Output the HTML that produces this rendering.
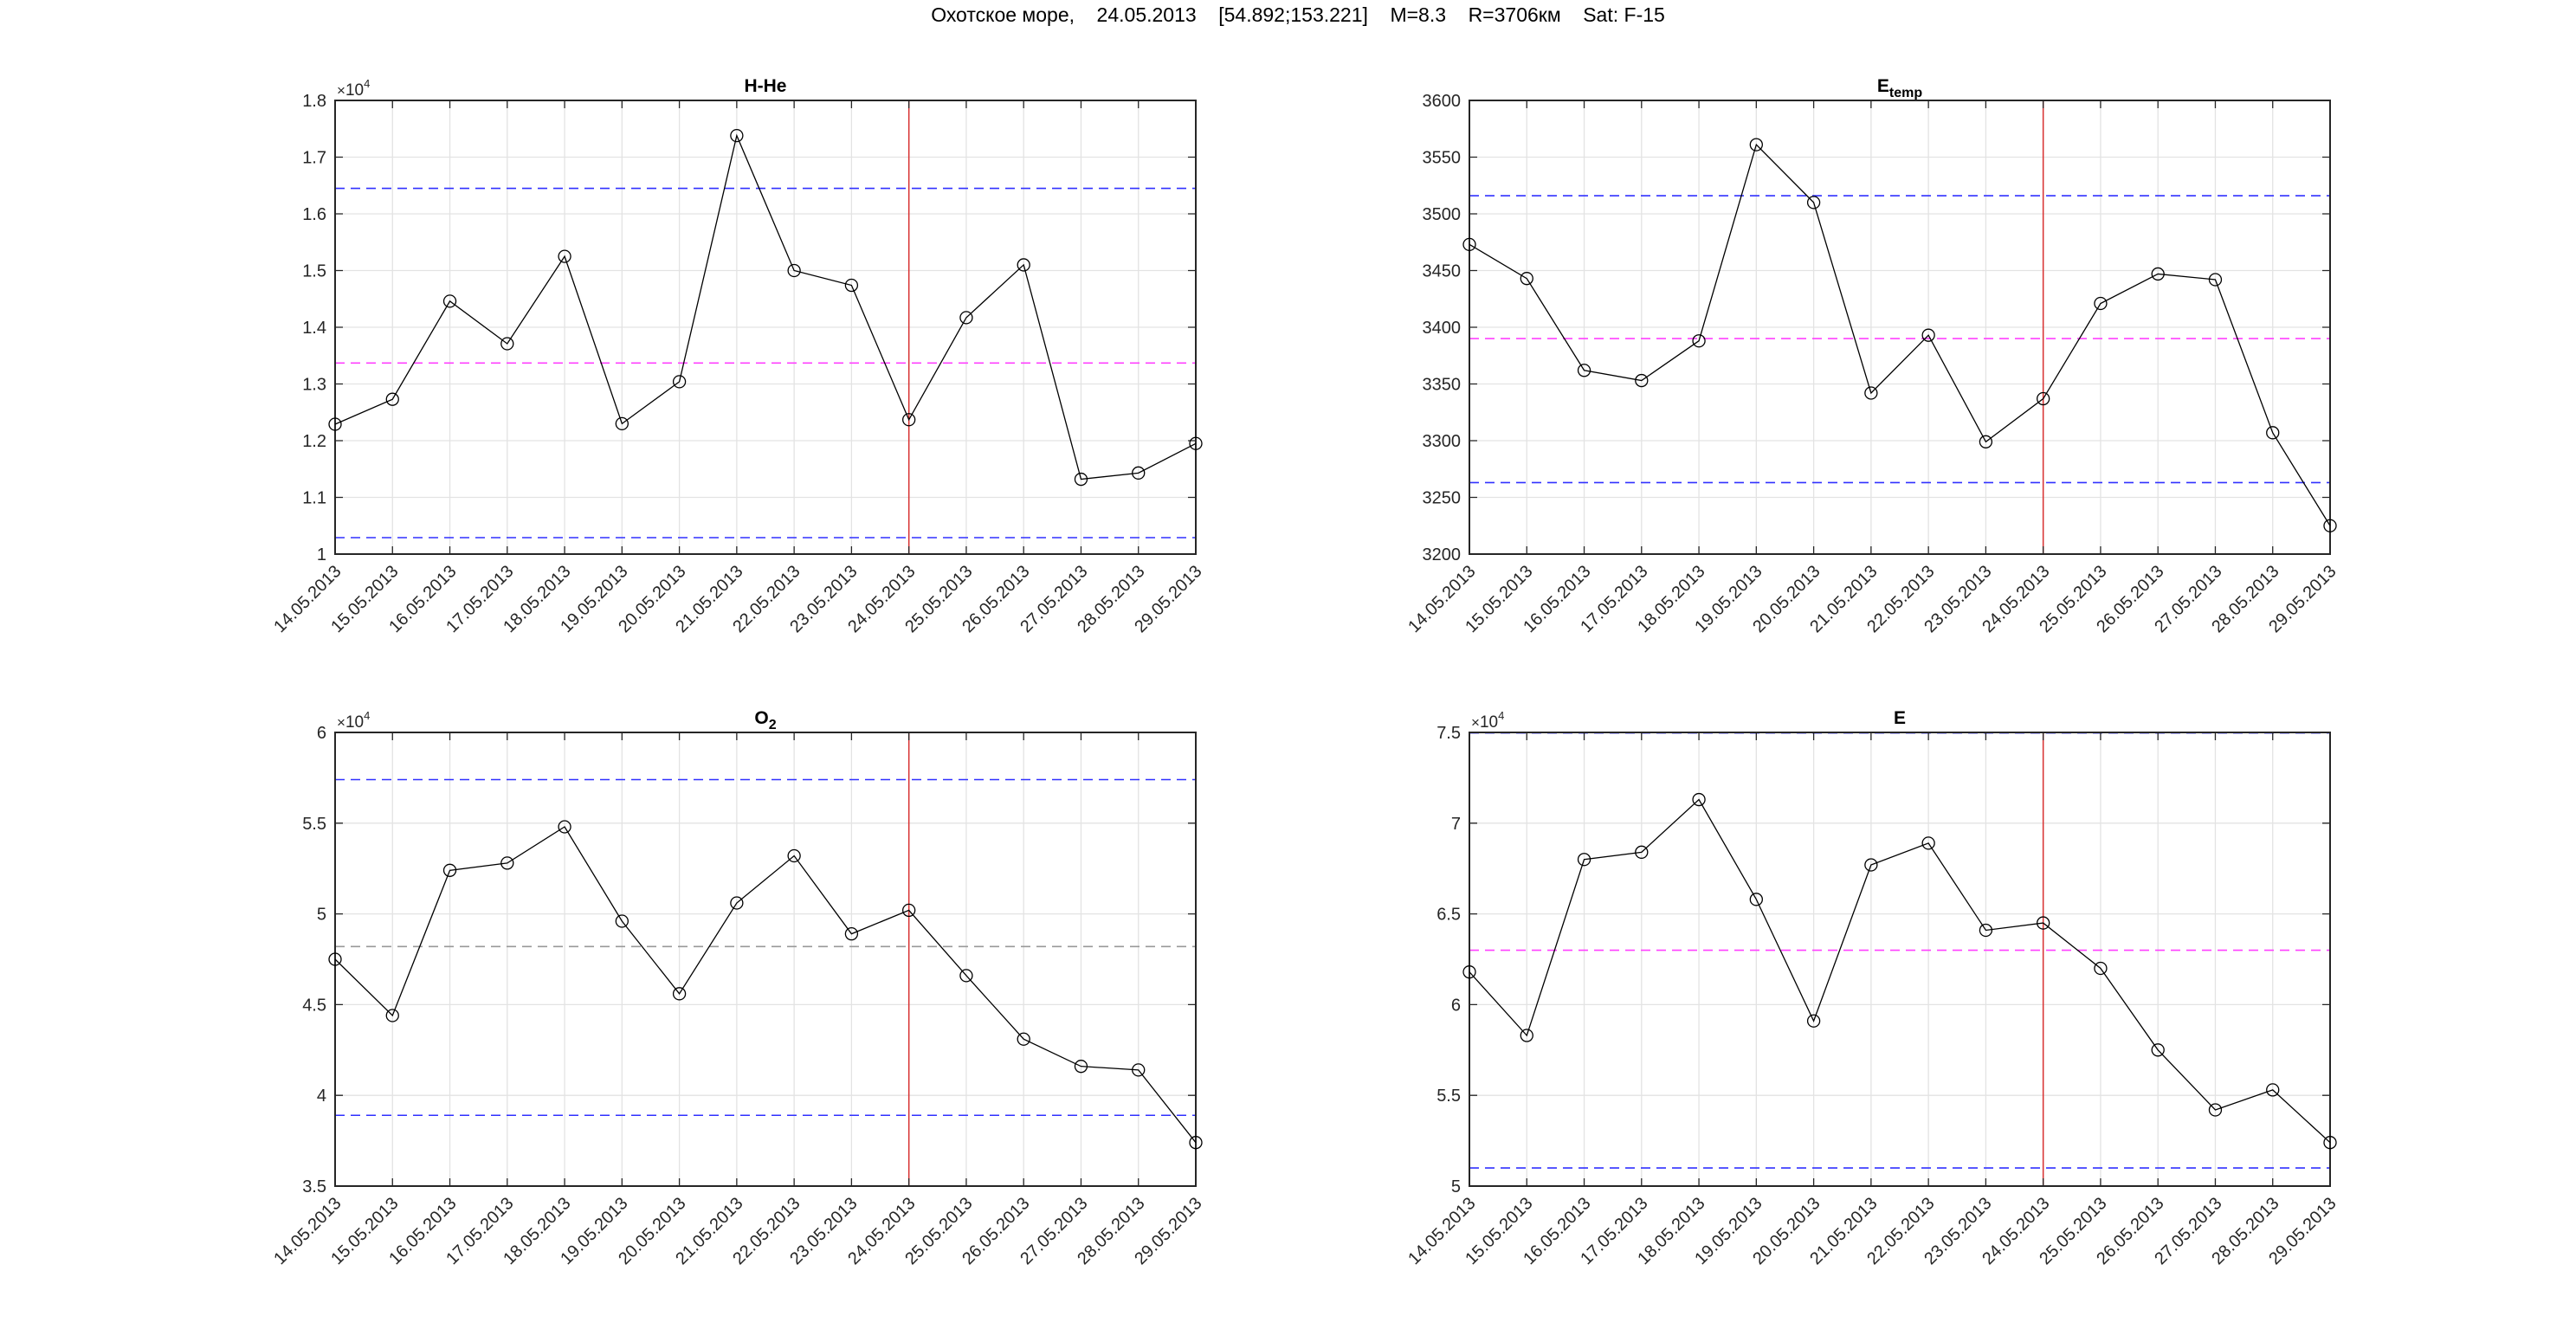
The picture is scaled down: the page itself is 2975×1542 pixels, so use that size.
<!DOCTYPE html>
<html><head><meta charset="utf-8"><style>
html,body{margin:0;padding:0;background:#fff}
svg{display:block;font-family:"Liberation Sans",sans-serif}
.yl{font-size:20px;fill:#262626;text-anchor:end}
.xl{font-size:20px;fill:#262626;text-anchor:end}
.tt{font-size:21px;font-weight:bold;fill:#000;text-anchor:middle}
.ex{font-size:19px;fill:#262626}
</style></head><body>
<svg id="s" width="2975" height="1542" viewBox="0 0 2975 1542" xmlns="http://www.w3.org/2000/svg">
<rect width="2975" height="1542" fill="#fff"/>
<text x="1499" y="25" font-size="23" text-anchor="middle" fill="#000" xml:space="preserve">Охотское море,    24.05.2013    [54.892;153.221]    M=8.3    R=3706км    Sat: F-15</text>

<g id="p0" transform="translate(387,116)">
<text class="tt" x="497" y="-10">H-He</text>
<text class="ex" x="2" y="-6"><tspan font-size="17">×</tspan>10<tspan font-size="13" dy="-9">4</tspan></text>
<g class="yl"><text x="-10" y="7">1.8</text><text x="-10" y="72.5">1.7</text><text x="-10" y="138">1.6</text><text x="-10" y="203.5">1.5</text><text x="-10" y="269">1.4</text><text x="-10" y="334.5">1.3</text><text x="-10" y="400">1.2</text><text x="-10" y="465.5">1.1</text><text x="-10" y="531">1</text></g>
</g>
<g id="p1" transform="translate(1697,116)">
<text class="tt" x="497" y="-10">E<tspan font-size="16" dy="6">temp</tspan></text>
<g class="yl"><text x="-10" y="7">3600</text><text x="-10" y="72.5">3550</text><text x="-10" y="138">3500</text><text x="-10" y="203.5">3450</text><text x="-10" y="269">3400</text><text x="-10" y="334.5">3350</text><text x="-10" y="400">3300</text><text x="-10" y="465.5">3250</text><text x="-10" y="531">3200</text></g>
</g>
<g id="p2" transform="translate(387,846)">
<text class="tt" x="497" y="-10">O<tspan font-size="16" dy="6">2</tspan></text>
<text class="ex" x="2" y="-6"><tspan font-size="17">×</tspan>10<tspan font-size="13" dy="-9">4</tspan></text>
<g class="yl"><text x="-10" y="7">6</text><text x="-10" y="111.8">5.5</text><text x="-10" y="216.6">5</text><text x="-10" y="321.4">4.5</text><text x="-10" y="426.2">4</text><text x="-10" y="531">3.5</text></g>
</g>
<g id="p3" transform="translate(1697,846)">
<text class="tt" x="497" y="-10">E</text>
<text class="ex" x="2" y="-6"><tspan font-size="17">×</tspan>10<tspan font-size="13" dy="-9">4</tspan></text>
<g class="yl"><text x="-10" y="7">7.5</text><text x="-10" y="111.8">7</text><text x="-10" y="216.6">6.5</text><text x="-10" y="321.4">6</text><text x="-10" y="426.2">5.5</text><text x="-10" y="531">5</text></g>
</g>

<g id="xlabs" class="xl">
<g transform="translate(387,116)">
<text transform="translate(8,545) rotate(-45)">14.05.2013</text><text transform="translate(74,545) rotate(-45)">15.05.2013</text><text transform="translate(141,545) rotate(-45)">16.05.2013</text><text transform="translate(207,545) rotate(-45)">17.05.2013</text><text transform="translate(273,545) rotate(-45)">18.05.2013</text><text transform="translate(339,545) rotate(-45)">19.05.2013</text><text transform="translate(406,545) rotate(-45)">20.05.2013</text><text transform="translate(472,545) rotate(-45)">21.05.2013</text><text transform="translate(538,545) rotate(-45)">22.05.2013</text><text transform="translate(604,545) rotate(-45)">23.05.2013</text><text transform="translate(671,545) rotate(-45)">24.05.2013</text><text transform="translate(737,545) rotate(-45)">25.05.2013</text><text transform="translate(803,545) rotate(-45)">26.05.2013</text><text transform="translate(870,545) rotate(-45)">27.05.2013</text><text transform="translate(936,545) rotate(-45)">28.05.2013</text><text transform="translate(1002,545) rotate(-45)">29.05.2013</text>
</g>
<g transform="translate(1697,116)">
<text transform="translate(8,545) rotate(-45)">14.05.2013</text><text transform="translate(74,545) rotate(-45)">15.05.2013</text><text transform="translate(141,545) rotate(-45)">16.05.2013</text><text transform="translate(207,545) rotate(-45)">17.05.2013</text><text transform="translate(273,545) rotate(-45)">18.05.2013</text><text transform="translate(339,545) rotate(-45)">19.05.2013</text><text transform="translate(406,545) rotate(-45)">20.05.2013</text><text transform="translate(472,545) rotate(-45)">21.05.2013</text><text transform="translate(538,545) rotate(-45)">22.05.2013</text><text transform="translate(604,545) rotate(-45)">23.05.2013</text><text transform="translate(671,545) rotate(-45)">24.05.2013</text><text transform="translate(737,545) rotate(-45)">25.05.2013</text><text transform="translate(803,545) rotate(-45)">26.05.2013</text><text transform="translate(870,545) rotate(-45)">27.05.2013</text><text transform="translate(936,545) rotate(-45)">28.05.2013</text><text transform="translate(1002,545) rotate(-45)">29.05.2013</text>
</g>
<g transform="translate(387,846)">
<text transform="translate(8,545) rotate(-45)">14.05.2013</text><text transform="translate(74,545) rotate(-45)">15.05.2013</text><text transform="translate(141,545) rotate(-45)">16.05.2013</text><text transform="translate(207,545) rotate(-45)">17.05.2013</text><text transform="translate(273,545) rotate(-45)">18.05.2013</text><text transform="translate(339,545) rotate(-45)">19.05.2013</text><text transform="translate(406,545) rotate(-45)">20.05.2013</text><text transform="translate(472,545) rotate(-45)">21.05.2013</text><text transform="translate(538,545) rotate(-45)">22.05.2013</text><text transform="translate(604,545) rotate(-45)">23.05.2013</text><text transform="translate(671,545) rotate(-45)">24.05.2013</text><text transform="translate(737,545) rotate(-45)">25.05.2013</text><text transform="translate(803,545) rotate(-45)">26.05.2013</text><text transform="translate(870,545) rotate(-45)">27.05.2013</text><text transform="translate(936,545) rotate(-45)">28.05.2013</text><text transform="translate(1002,545) rotate(-45)">29.05.2013</text>
</g>
<g transform="translate(1697,846)">
<text transform="translate(8,545) rotate(-45)">14.05.2013</text><text transform="translate(74,545) rotate(-45)">15.05.2013</text><text transform="translate(141,545) rotate(-45)">16.05.2013</text><text transform="translate(207,545) rotate(-45)">17.05.2013</text><text transform="translate(273,545) rotate(-45)">18.05.2013</text><text transform="translate(339,545) rotate(-45)">19.05.2013</text><text transform="translate(406,545) rotate(-45)">20.05.2013</text><text transform="translate(472,545) rotate(-45)">21.05.2013</text><text transform="translate(538,545) rotate(-45)">22.05.2013</text><text transform="translate(604,545) rotate(-45)">23.05.2013</text><text transform="translate(671,545) rotate(-45)">24.05.2013</text><text transform="translate(737,545) rotate(-45)">25.05.2013</text><text transform="translate(803,545) rotate(-45)">26.05.2013</text><text transform="translate(870,545) rotate(-45)">27.05.2013</text><text transform="translate(936,545) rotate(-45)">28.05.2013</text><text transform="translate(1002,545) rotate(-45)">29.05.2013</text>
</g>
</g>
</svg>
<script>
(function(){
var NS="http://www.w3.org/2000/svg",W=994,H=524;
function el(p,n,a){var e=document.createElementNS(NS,n);for(var k in a)e.setAttribute(k,a[k]);p.appendChild(e);return e;}
var P=[
{id:"p0",min:1.0,max:1.8,nt:8,d:[1.229,1.273,1.446,1.371,1.525,1.230,1.304,1.738,1.500,1.474,1.237,1.417,1.510,1.132,1.143,1.195],h:[[1.645,"#3030ff"],[1.029,"#3030ff"],[1.337,"#ff40ff"]]},
{id:"p1",min:3200,max:3600,nt:8,d:[3473,3443,3362,3353,3388,3561,3510,3342,3393,3299,3337,3421,3447,3442,3307,3225],h:[[3516,"#3030ff"],[3263,"#3030ff"],[3390,"#ff40ff"]]},
{id:"p2",min:3.5,max:6,nt:5,d:[4.75,4.44,5.24,5.28,5.48,4.96,4.56,5.06,5.32,4.89,5.02,4.66,4.31,4.16,4.14,3.74],h:[[5.74,"#3030ff"],[3.89,"#3030ff"],[4.82,"#999999"]]},
{id:"p3",min:5,max:7.5,nt:5,d:[6.18,5.83,6.80,6.84,7.13,6.58,5.91,6.77,6.89,6.41,6.45,6.20,5.75,5.42,5.53,5.24],h:[[7.497,"#3030ff"],[5.10,"#3030ff"],[6.30,"#ff40ff"]]}
];
P.forEach(function(p){
 var g=document.getElementById(p.id);
 var Y=function(v){return H*(1-(v-p.min)/(p.max-p.min));};
 var X=function(i){return i*W/15;};
 var i,s="";
 for(i=1;i<15;i++)s+="M"+X(i)+" 0V"+H;
 for(i=1;i<p.nt;i++)s+="M0 "+(i*H/p.nt)+"H"+W;
 el(g,"path",{d:s,stroke:"#e3e3e3","stroke-width":1.3,fill:"none"});
 p.h.forEach(function(h){el(g,"line",{x1:0,x2:W,y1:Y(h[0]),y2:Y(h[0]),stroke:h[1],"stroke-width":1.6,"stroke-dasharray":"11,7"});});
 el(g,"line",{x1:X(10),x2:X(10),y1:0,y2:H,stroke:"#d83030","stroke-width":1.5});
 var t="";
 for(i=0;i<16;i++){t+="M"+X(i)+" "+H+"v-9M"+X(i)+" 0v9";}
 for(i=0;i<=p.nt;i++){t+="M0 "+(i*H/p.nt)+"h9M"+W+" "+(i*H/p.nt)+"h-9";}
 el(g,"path",{d:t,stroke:"#262626","stroke-width":1.3,fill:"none"});
 el(g,"rect",{x:0,y:0,width:W,height:H,fill:"none",stroke:"#262626","stroke-width":2});
 var pts=p.d.map(function(v,i){return X(i)+","+Y(v);}).join(" ");
 el(g,"polyline",{points:pts,fill:"none",stroke:"#000","stroke-width":1.3});
 p.d.forEach(function(v,i){el(g,"circle",{cx:X(i),cy:Y(v),r:7,fill:"none",stroke:"#000","stroke-width":1.3});});
});
})();
</script>
</body></html>
